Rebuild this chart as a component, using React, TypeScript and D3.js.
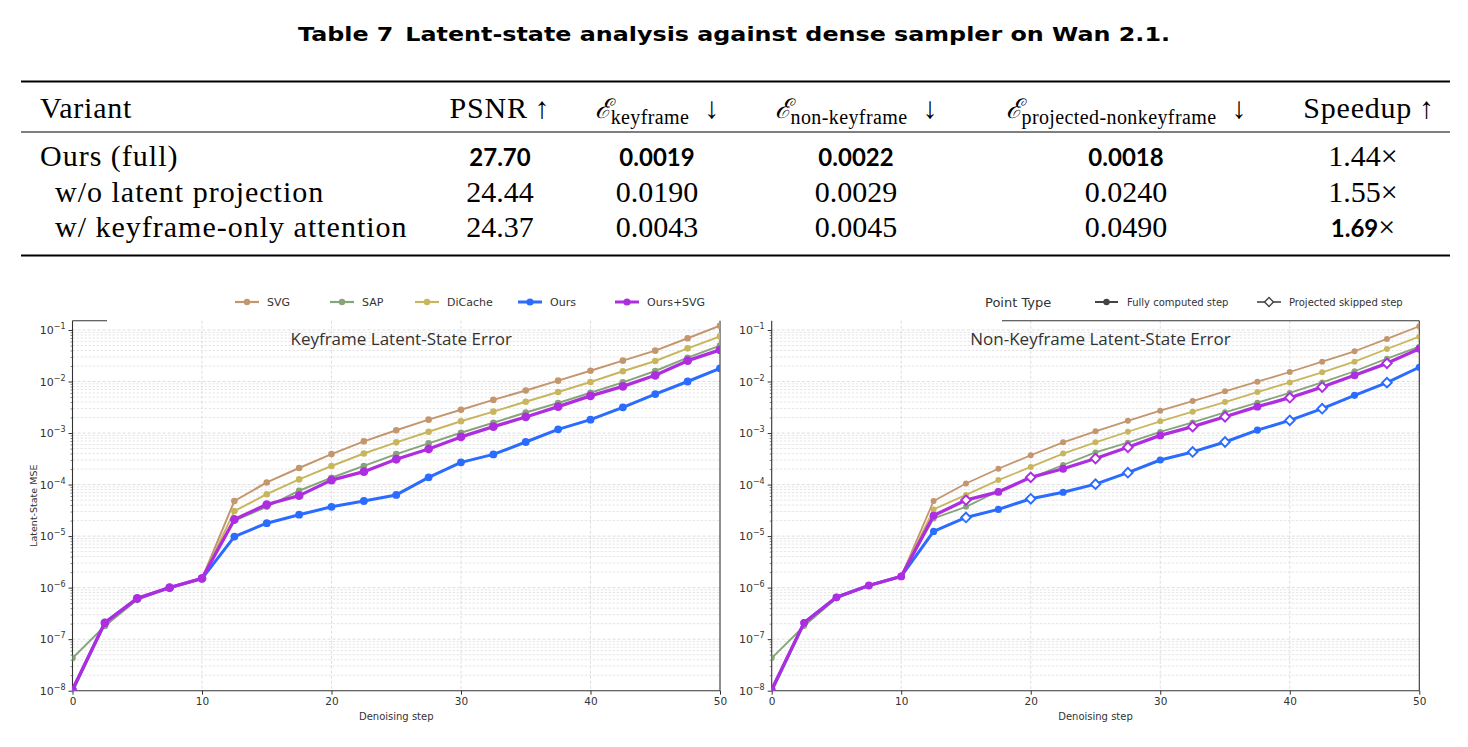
import React, { useEffect, useRef } from 'react'
import * as d3 from 'd3'

// denoising steps on the x axis
const steps = [0, 2.5, 5, 7.5, 10, 12.5, 15, 17.5, 20, 22.5, 25, 27.5, 30, 32.5, 35, 37.5, 40, 42.5, 45, 47.5, 50]
const methods = ['SVG', 'SAP', 'DiCache', 'Ours', 'Ours+SVG']
const methodColors = ['#c4966e', '#87a578', '#c8b65f', '#2a6cff', '#af2de1']

// keyframe latent-state MSE
const svgKeyframe = [1e-8, 2.1e-7, 6.2e-7, 1.0e-6, 1.5e-6, 4.8e-5, 1.1e-4, 2.1e-4, 3.9e-4, 6.9e-4, 1.13e-3, 1.82e-3, 2.84e-3, 4.4e-3, 6.7e-3, 1.04e-2, 1.62e-2, 2.54e-2, 3.97e-2, 6.9e-2, 1.21e-1]
const sapKeyframe = [4.3e-8, 1.8e-7, 5.8e-7, 1.0e-6, 1.5e-6, 2.0e-5, 3.7e-5, 7.6e-5, 1.36e-4, 2.3e-4, 3.9e-4, 6.3e-4, 1.01e-3, 1.58e-3, 2.5e-3, 3.83e-3, 6.07e-3, 9.6e-3, 1.6e-2, 2.9e-2, 4.97e-2]
const dicacheKeyframe = [1e-8, 2.1e-7, 6.2e-7, 1.0e-6, 1.5e-6, 3.06e-5, 6.5e-5, 1.26e-4, 2.29e-4, 4.0e-4, 6.6e-4, 1.06e-3, 1.69e-3, 2.6e-3, 4.06e-3, 6.25e-3, 9.8e-3, 1.58e-2, 2.5e-2, 4.4e-2, 7.5e-2]
const oursKeyframe = [1e-8, 2.1e-7, 6.2e-7, 1.0e-6, 1.5e-6, 9.8e-6, 1.78e-5, 2.6e-5, 3.7e-5, 4.8e-5, 6.3e-5, 1.38e-4, 2.7e-4, 3.85e-4, 6.7e-4, 1.18e-3, 1.82e-3, 3.15e-3, 5.7e-3, 1.0e-2, 1.8e-2]
const oursSvgKeyframe = [1.05e-8, 2.08e-7, 6.2e-7, 1.0e-6, 1.51e-6, 2.1e-5, 4.1e-5, 6.1e-5, 1.22e-4, 1.78e-4, 3.1e-4, 4.9e-4, 8.4e-4, 1.33e-3, 2.05e-3, 3.25e-3, 5.25e-3, 8.05e-3, 1.32e-2, 2.54e-2, 4.1e-2]

// non-keyframe latent-state MSE
const svgNonKeyframe = [1e-8, 2.08e-7, 6.5e-7, 1.1e-6, 1.65e-6, 4.8e-5, 1.05e-4, 2.03e-4, 3.7e-4, 6.6e-4, 1.08e-3, 1.73e-3, 2.71e-3, 4.18e-3, 6.45e-3, 9.9e-3, 1.53e-2, 2.43e-2, 3.86e-2, 6.7e-2, 1.18e-1]
const sapNonKeyframe = [4.3e-8, 1.8e-7, 6.2e-7, 1.1e-6, 1.65e-6, 2.2e-5, 3.7e-5, 7.5e-5, 1.35e-4, 2.4e-4, 4.2e-4, 6.5e-4, 1.05e-3, 1.61e-3, 2.52e-3, 3.88e-3, 6.0e-3, 9.6e-3, 1.58e-2, 2.77e-2, 4.74e-2]
const dicacheNonKeyframe = [1e-8, 2.08e-7, 6.5e-7, 1.1e-6, 1.65e-6, 3.3e-5, 6.3e-5, 1.22e-4, 2.2e-4, 4.0e-4, 6.6e-4, 1.06e-3, 1.69e-3, 2.6e-3, 4.0e-3, 6.25e-3, 9.6e-3, 1.51e-2, 2.43e-2, 4.28e-2, 7.4e-2]
const oursNonKeyframe = [1e-8, 2.08e-7, 6.5e-7, 1.1e-6, 1.65e-6, 1.23e-5, 2.3e-5, 3.3e-5, 5.3e-5, 7.1e-5, 1.02e-4, 1.7e-4, 3.0e-4, 4.3e-4, 6.7e-4, 1.14e-3, 1.76e-3, 2.97e-3, 5.4e-3, 9.5e-3, 1.89e-2]
const oursSvgNonKeyframe = [1.05e-8, 2.08e-7, 6.5e-7, 1.1e-6, 1.65e-6, 2.5e-5, 5.0e-5, 7.2e-5, 1.38e-4, 2.03e-4, 3.2e-4, 5.3e-4, 9.0e-4, 1.33e-3, 2.07e-3, 3.25e-3, 4.85e-3, 7.8e-3, 1.32e-2, 2.25e-2, 4.34e-2]

// steps where non-keyframes were projected instead of computed
const skippedSteps = [15, 20, 25, 27.5, 32.5, 35, 40, 42.5, 47.5]

const xTicks = [0, 10, 20, 30, 40, 50]
const decades = [-8, -7, -6, -5, -4, -3, -2, -1]
const minorMultipliers = [2, 3, 4, 5, 6, 7, 8, 9]

// table
const tableTitle = 'Table 7\u2002Latent-state analysis against dense sampler on Wan 2.1.'
const variants = ['Ours (full)', 'w/o latent projection', 'w/ keyframe-only attention']
const psnr = ['27.70', '24.44', '24.37']
const errKeyframe = ['0.0019', '0.0190', '0.0043']
const errNonKeyframe = ['0.0022', '0.0029', '0.0045']
const errProjected = ['0.0018', '0.0240', '0.0490']
const speedup = ['1.44', '1.55', '1.69']

const SERIF = '"Liberation Serif", "Times New Roman", serif'
const BOLD = 'Lato, "Noto Sans", sans-serif'
const MPL = '"DejaVu Sans", sans-serif'

const plotTop = 320.7
const plotBottom = 690.7

function drawPanel(root, opt) {
  const { id, x0, x1, series, title, yLabel, legend, spineTop, markSkipped } = opt
  const g = root.append('g').attr('class', 'panel')
  const x = d3.scaleLinear().domain([0, 50]).range([x0, x1])
  const y = d3.scaleLog().domain([1e-8, Math.pow(10, -0.82)]).range([plotBottom, plotTop])
  const top = y.domain()[1]

  g.append('clipPath').attr('id', id).append('rect')
    .attr('x', x0).attr('y', plotTop).attr('width', x1 - x0).attr('height', plotBottom - plotTop)

  // grid
  const minors = []
  decades.forEach(d => minorMultipliers.forEach(m => {
    const v = m * Math.pow(10, d)
    if (v < top) minors.push(v)
  }))
  g.append('g').selectAll('line').data(minors).join('line')
    .attr('x1', x0).attr('x2', x1).attr('y1', d => y(d)).attr('y2', d => y(d))
    .attr('stroke', '#e0e0e0').attr('stroke-width', 0.8).attr('stroke-dasharray', '2.5,1.5')
  g.append('g').selectAll('line').data(decades.slice(1)).join('line')
    .attr('x1', x0).attr('x2', x1).attr('y1', d => y(Math.pow(10, d))).attr('y2', d => y(Math.pow(10, d)))
    .attr('stroke', '#d6d6d6').attr('stroke-width', 0.8).attr('stroke-dasharray', '3,2')
  g.append('g').selectAll('line').data(xTicks.slice(1, -1)).join('line')
    .attr('x1', d => x(d)).attr('x2', d => x(d)).attr('y1', plotTop).attr('y2', plotBottom)
    .attr('stroke', '#d6d6d6').attr('stroke-width', 0.8).attr('stroke-dasharray', '3,2')

  // axes
  const xAxis = g.append('g').attr('transform', `translate(0,${plotBottom})`)
    .call(d3.axisBottom(x).tickValues(xTicks).tickSize(4).tickPadding(3))
  xAxis.select('.domain').remove()
  xAxis.selectAll('line').attr('stroke', '#333')
  xAxis.selectAll('text').attr('font-family', MPL).attr('font-size', 10.5).attr('fill', '#333')

  const yAxis = g.append('g').attr('transform', `translate(${x0},0)`)
    .call(d3.axisLeft(y).tickValues(decades.map(d => Math.pow(10, d))).tickSize(4).tickFormat(() => ''))
  yAxis.select('.domain').remove()
  yAxis.selectAll('line').attr('stroke', '#333')
  const yMinor = g.append('g').attr('transform', `translate(${x0},0)`)
    .call(d3.axisLeft(y).tickValues(minors).tickSize(2).tickFormat(() => ''))
  yMinor.select('.domain').remove()
  yMinor.selectAll('line').attr('stroke', '#555').attr('stroke-width', 0.7)

  const labels = g.append('g').selectAll('text').data(decades).join('text')
    .attr('x', x0 - 7).attr('y', d => y(Math.pow(10, d)) + 4)
    .attr('text-anchor', 'end').attr('font-family', MPL).attr('font-size', 11).attr('fill', '#333')
  labels.append('tspan').text('10')
  labels.append('tspan').attr('dy', -5).attr('font-size', 8).text(d => '\u2212' + Math.abs(d))

  // spines
  const sp = g.append('g').attr('stroke', '#333').attr('stroke-width', 1.1)
  sp.append('line').attr('x1', x0).attr('x2', x0).attr('y1', plotTop).attr('y2', plotBottom)
  sp.append('line').attr('x1', x0).attr('x2', x1).attr('y1', plotBottom).attr('y2', plotBottom)
  sp.append('line').attr('x1', x1).attr('x2', x1).attr('y1', plotTop).attr('y2', plotBottom)
  sp.append('line').attr('x1', spineTop[0]).attr('x2', spineTop[1]).attr('y1', plotTop).attr('y2', plotTop)

  // axis labels and title
  g.append('text').attr('x', (x0 + x1) / 2).attr('y', 720).attr('text-anchor', 'middle')
    .attr('font-family', MPL).attr('font-size', 10).attr('fill', '#333').text('Denoising step')
  if (yLabel) {
    g.append('text').attr('transform', `translate(37,${(plotTop + plotBottom) / 2}) rotate(-90)`)
      .attr('text-anchor', 'middle').attr('font-family', MPL).attr('font-size', 9.5).attr('fill', '#333').text(yLabel)
  }
  g.append('text').attr('x', (x0 + x1) / 2 + 5).attr('y', 345).attr('text-anchor', 'middle')
    .attr('font-family', '"Open Sans", "Noto Sans", sans-serif').attr('font-size', 17).attr('fill', '#333').text(title)

  // series
  const widths = opt.widths
  const radii = opt.radii
  const line = d3.line().x(d => x(d[0])).y(d => y(d[1]))
  const plot = g.append('g').attr('clip-path', `url(#${id})`)
  series.forEach((vals, i) => {
    const pts = steps.map((s, j) => [s, vals[j]])
    plot.append('path').datum(pts).attr('d', line).attr('fill', 'none')
      .attr('stroke', methodColors[i]).attr('stroke-width', widths[i]).attr('stroke-linejoin', 'round')
    const hollow = markSkipped && i >= 3
    const filled = pts.filter(p => !(hollow && skippedSteps.includes(p[0])))
    plot.append('g').selectAll('circle').data(filled).join('circle')
      .attr('cx', d => x(d[0])).attr('cy', d => y(d[1])).attr('r', radii[i]).attr('fill', methodColors[i])
    if (hollow) {
      const open = pts.filter(p => skippedSteps.includes(p[0]))
      plot.append('g').selectAll('path').data(open).join('path')
        .attr('d', d3.symbol(d3.symbolSquare, 46)())
        .attr('transform', d => `translate(${x(d[0])},${y(d[1])}) rotate(45)`)
        .attr('fill', '#fff').attr('stroke', methodColors[i]).attr('stroke-width', 1.9)
    }
  })

  // legends
  const lg = g.append('g').attr('font-family', MPL).attr('font-size', 11).attr('fill', '#333')
  if (legend === 'methods') {
    const lineX = [235, 330, 415, 518, 615]
    methods.forEach((m, i) => {
      lg.append('line').attr('x1', lineX[i]).attr('x2', lineX[i] + 24).attr('y1', 302).attr('y2', 302)
        .attr('stroke', methodColors[i]).attr('stroke-width', i >= 3 ? 3 : 2.2)
      lg.append('circle').attr('cx', lineX[i] + 12).attr('cy', 302).attr('r', i >= 3 ? 3.6 : 3.2).attr('fill', methodColors[i])
      lg.append('text').attr('x', lineX[i] + 32).attr('y', 306).text(m)
    })
  } else {
    lg.append('text').attr('x', 985).attr('y', 306.5).attr('font-size', 13).text('Point Type')
    lg.append('line').attr('x1', 1095).attr('x2', 1118).attr('y1', 302).attr('y2', 302).attr('stroke', '#444').attr('stroke-width', 2)
    lg.append('circle').attr('cx', 1106.5).attr('cy', 302).attr('r', 3.2).attr('fill', '#444')
    lg.append('text').attr('x', 1127).attr('y', 305.5).attr('font-size', 10).text('Fully computed step')
    lg.append('line').attr('x1', 1257).attr('x2', 1281).attr('y1', 302).attr('y2', 302).attr('stroke', '#444').attr('stroke-width', 1.6)
    lg.append('path').attr('d', d3.symbol(d3.symbolSquare, 40)()).attr('transform', 'translate(1269,302) rotate(45)')
      .attr('fill', '#fff').attr('stroke', '#444').attr('stroke-width', 1.4)
    lg.append('text').attr('x', 1289).attr('y', 305.5).attr('font-size', 10).text('Projected skipped step')
  }
}

function ErrHeader({ x, sub }) {
  return (
    <text x={x} y={118} textAnchor="middle" fontFamily={SERIF} fontSize={30}>
      <tspan fontFamily='"DejaVu Serif", serif' fontStyle="italic" fontSize={27}>ℰ</tspan>
      <tspan fontSize={20} dy={6} letterSpacing={0.4}>{sub}</tspan>
      <tspan dy={-6}>{'\u2002\u2193'}</tspan>
    </text>
  )
}

export default function App() {
  const ref = useRef(null)
  useEffect(() => {
    const root = d3.select(ref.current)
    root.selectAll('g.panel').remove()
    root.selectAll('clipPath').remove()
    drawPanel(root, {
      id: 'clipKey', x0: 72.5, x1: 720, title: 'Keyframe Latent-State Error', yLabel: 'Latent-State MSE',
      series: [svgKeyframe, sapKeyframe, dicacheKeyframe, oursKeyframe, oursSvgKeyframe],
      widths: [2, 2, 2, 3, 3.3], radii: [3.3, 3.3, 3.3, 3.9, 4.4],
      legend: 'methods', spineTop: [72.5, 107], markSkipped: false
    })
    drawPanel(root, {
      id: 'clipNon', x0: 771.7, x1: 1419.3, title: 'Non-Keyframe Latent-State Error', yLabel: null,
      series: [svgNonKeyframe, sapNonKeyframe, dicacheNonKeyframe, oursNonKeyframe, oursSvgNonKeyframe],
      widths: [1.8, 1.8, 1.8, 3, 3.3], radii: [3, 3, 3, 3.6, 3.9],
      legend: 'points', spineTop: [1002, 1419.3], markSkipped: true
    })
  }, [])

  const cols = [500, 657, 856, 1126, 1363]
  const cells = [psnr, errKeyframe, errNonKeyframe, errProjected]
  const bestRow = [0, 0, 0, 0, 2]
  const rowY = [166, 201.5, 237]

  return (
    <svg ref={ref} width={1468} height={747} style={{ position: 'absolute', left: 0, top: 0, background: '#fff' }}>
      <text x={734} y={41} textAnchor="middle" fontFamily='"DejaVu Sans", sans-serif' fontWeight={700} fontSize={20}
        textLength={872} lengthAdjust="spacingAndGlyphs">{tableTitle}</text>

      <line x1={21} x2={1450} y1={81.5} y2={81.5} stroke="#000" strokeWidth={2} />
      <line x1={21} x2={1450} y1={132} y2={132} stroke="#000" strokeWidth={1.2} />
      <line x1={21} x2={1450} y1={255.5} y2={255.5} stroke="#000" strokeWidth={2} />

      <text x={40} y={118} fontFamily={SERIF} fontSize={30} letterSpacing={0.8}>Variant</text>
      <text x={cols[0]} y={118} textAnchor="middle" fontFamily={SERIF} fontSize={30} letterSpacing={0.8}>{'PSNR\u2009\u2191'}</text>
      <ErrHeader x={cols[1]} sub="keyframe" />
      <ErrHeader x={cols[2]} sub="non-keyframe" />
      <ErrHeader x={cols[3]} sub="projected-nonkeyframe" />
      <text x={1369} y={118} textAnchor="middle" fontFamily={SERIF} fontSize={30} letterSpacing={0.8}>{'Speedup\u2009\u2191'}</text>

      {variants.map((v, r) => (
        <g key={v}>
          <text x={r === 0 ? 40 : 55} y={rowY[r]} fontFamily={SERIF} fontSize={30} letterSpacing={1}>{v}</text>
          {cells.map((col, c) => (
            <text key={c} x={cols[c]} y={rowY[r]} textAnchor="middle"
              fontFamily={bestRow[c] === r ? BOLD : SERIF} fontWeight={bestRow[c] === r ? 700 : 400}
              fontSize={bestRow[c] === r ? 24 : 30}>{col[r]}</text>
          ))}
          <text x={cols[4]} y={rowY[r]} textAnchor="middle" fontFamily={SERIF} fontSize={30}>
            <tspan fontFamily={bestRow[4] === r ? BOLD : SERIF} fontWeight={bestRow[4] === r ? 700 : 400}
              fontSize={bestRow[4] === r ? 24 : 30}>{speedup[r]}</tspan>
            <tspan>{'\u00d7'}</tspan>
          </text>
        </g>
      ))}
    </svg>
  )
}
